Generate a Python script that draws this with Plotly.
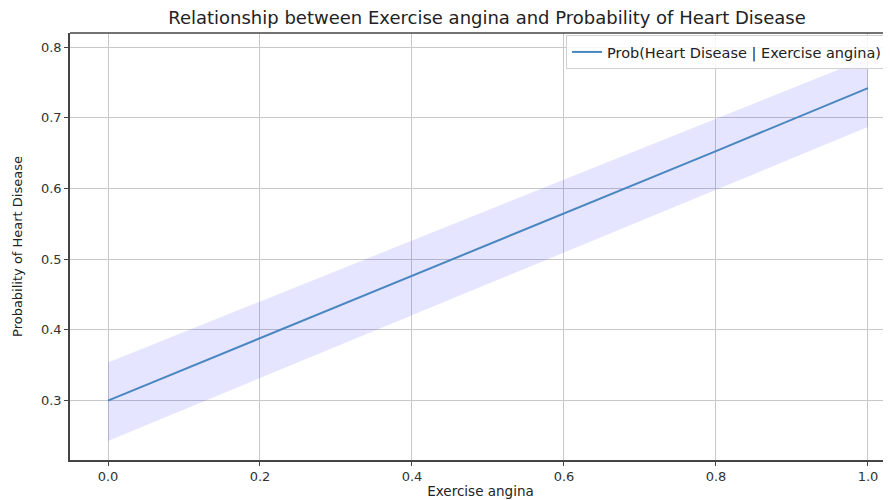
import plotly.graph_objects as go

x_vals = [0.0, 0.2, 0.4, 0.6, 0.8, 1.0]
prob_mean = [0.300, 0.388, 0.477, 0.565, 0.653, 0.742]
prob_upper = [0.354, 0.440, 0.526, 0.612, 0.698, 0.785]
prob_lower = [0.243, 0.332, 0.421, 0.510, 0.598, 0.687]
x_ticks = [0.0, 0.2, 0.4, 0.6, 0.8, 1.0]
x_tick_labels = ["0.0", "0.2", "0.4", "0.6", "0.8", "1.0"]
y_ticks = [0.3, 0.4, 0.5, 0.6, 0.7, 0.8]
y_tick_labels = ["0.3", "0.4", "0.5", "0.6", "0.7", "0.8"]

FONT = "DejaVu Sans"
TXT = "#333333"

# the page body has an 8px margin; the figure is sized/offset to compensate
W, H = 883, 492

fig = go.Figure()
fig.add_trace(go.Scatter(x=x_vals, y=prob_upper, mode="lines", line=dict(width=0),
                         showlegend=False, hoverinfo="skip"))
fig.add_trace(go.Scatter(x=x_vals, y=prob_lower, mode="lines", line=dict(width=0),
                         fill="tonexty", fillcolor="rgba(0,0,255,0.1)",
                         showlegend=False, hoverinfo="skip"))
fig.add_trace(go.Scatter(x=x_vals, y=prob_mean, mode="lines",
                         line=dict(color="#4a86c0", width=2),
                         name="Prob(Heart Disease | Exercise angina)"))

fig.update_layout(
    width=W, height=H,
    margin=dict(l=62, r=0, t=25, b=40),
    paper_bgcolor="white", plot_bgcolor="white",
    font=dict(family=FONT, color=TXT, size=13),
    title=dict(text="Relationship between Exercise angina and Probability of Heart Disease",
               x=(479 / W), xanchor="center", y=1 - 10 / H, yanchor="middle",
               font=dict(size=18, color="#222222")),
    legend=dict(x=(558 - 62) / (W - 62), y=1 - 2 / 427, xanchor="left", yanchor="top",
                bgcolor="rgba(255,255,255,0.85)", bordercolor="#d0d0d0", borderwidth=1,
                font=dict(size=14.5, color="#222222"), itemwidth=30,
                tracegroupgap=0),
    showlegend=True,
)
fig.update_xaxes(
    range=[-0.05, 1.0303], tickvals=x_ticks, ticktext=x_tick_labels,
    showgrid=True, gridcolor="#c8c8c8", gridwidth=1,
    showline=True, linecolor="#444444", linewidth=1.5,
    ticks="outside", ticklen=4, tickcolor="#444444",
    zeroline=False, automargin=False,
    title=dict(text="Exercise angina", font=dict(size=13.5, color="#222222"), standoff=3),
)
fig.update_yaxes(
    range=[0.216, 0.82], tickvals=y_ticks, ticktext=y_tick_labels,
    showgrid=True, gridcolor="#c8c8c8", gridwidth=1,
    showline=True, linecolor="#444444", linewidth=1.5,
    ticks="outside", ticklen=4, tickcolor="#444444",
    zeroline=False, automargin=False,
    title=dict(text="Probability of Heart Disease", font=dict(size=13, color="#222222"), standoff=15),
)
fig.add_shape(type="line", xref="paper", yref="paper", x0=0, x1=1, y0=1, y1=1,
              line=dict(color="#444444", width=1.5))

fig.write_html("out.html")
